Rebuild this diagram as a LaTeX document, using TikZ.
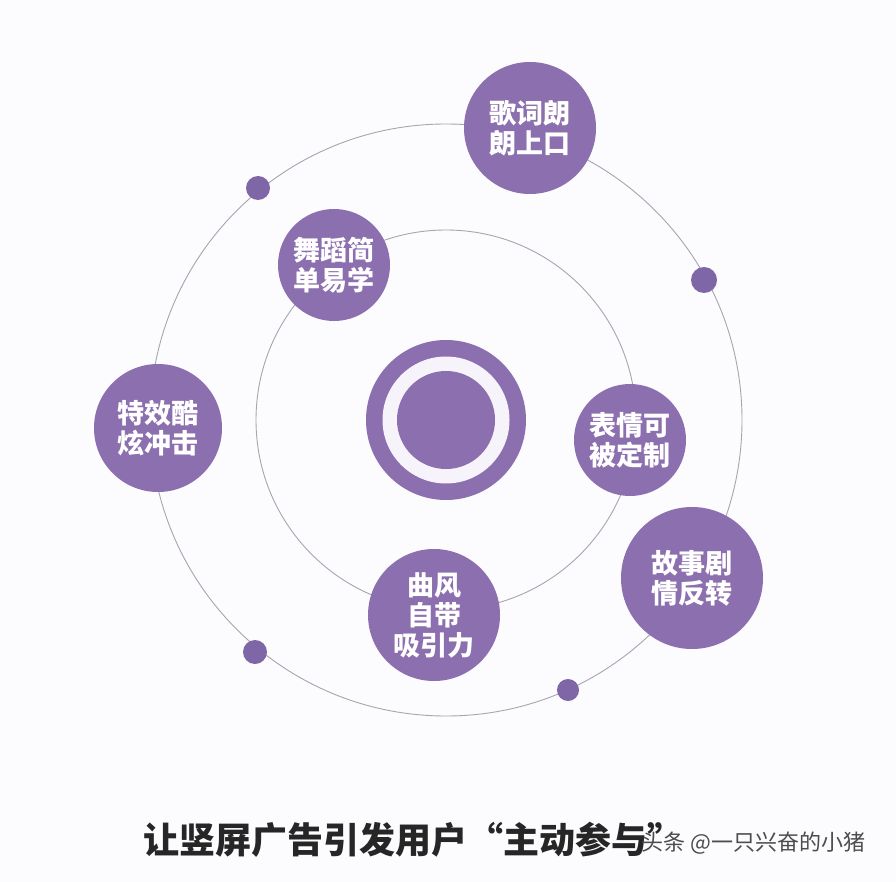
\documentclass[tikz,border=0pt]{standalone}
\usepackage{fontspec}
\newfontfamily\cjk{Noto Sans CJK SC}

\definecolor{bubble}{HTML}{8C6FAF}
\definecolor{dotc}{HTML}{7F66A6}
\definecolor{orbit}{HTML}{A9A4B0}
\definecolor{paper}{HTML}{FCFBFE}
\definecolor{gap}{HTML}{F7F3FA}

\tikzset{
  bubble/.style={circle, fill=bubble, text=white, inner sep=0pt, align=center,
    font=\cjk\bfseries\fontsize{27}{30}\selectfont},
  planet/.style={circle, fill=dotc, inner sep=0pt, minimum size=24pt},
  orbitline/.style={draw=orbit, line width=.9pt}
}

\begin{document}
\begin{tikzpicture}[x=1pt,y=-1pt]

\fill [paper] (0,0) rectangle (896,882);
\useasboundingbox (0,0) rectangle (896,882);

%-----------------------------------------------------
\coordinate (ctr) at (446,420);
\draw [orbitline] (ctr) circle [radius=296pt];
\draw [orbitline] (ctr) circle [radius=190pt];

%-----------------------------------------------------
\node (hub) at (ctr) [circle, fill=bubble, minimum size=160pt] {};
\node (hubgap) at (ctr) [circle, fill=gap, minimum size=127pt] {};
\node (hubcore) at (ctr) [circle, fill=bubble, minimum size=98pt] {};

%-----------------------------------------------------
\node (lyrics) at (530,128) [bubble, minimum size=132pt] {歌词朗\\朗上口};
\node (dance) at (334,265) [bubble, minimum size=112pt] {舞蹈简\\单易学};
\node (effect) at (158,428) [bubble, minimum size=128pt] {特效酷\\炫冲击};
\node (face) at (630,440) [bubble, minimum size=112pt] {表情可\\被定制};
\node (story) at (692,578) [bubble, minimum size=142pt] {故事剧\\情反转};
\node (tune) at (434,615) [bubble, minimum size=132pt] {曲风\\自带\\吸引力};

%-----------------------------------------------------
\node (p1) at (258,188) [planet] {};
\node (p2) at (704,280) [planet, minimum size=26pt] {};
\node (p3) at (255,652) [planet] {};
\node (p4) at (568,690) [planet, minimum size=22pt] {};

%-----------------------------------------------------
\node (title) at (140,840) [anchor=west, text=black!85,
  font=\cjk\bfseries\fontsize{36}{36}\selectfont] {让竖屏广告引发用户“主动参与”};
\node (mark) at (638,843) [anchor=west, text=black!70,
  font=\cjk\fontsize{22}{22}\selectfont] {头条 @一只兴奋的小猪};

\end{tikzpicture}
\end{document}
